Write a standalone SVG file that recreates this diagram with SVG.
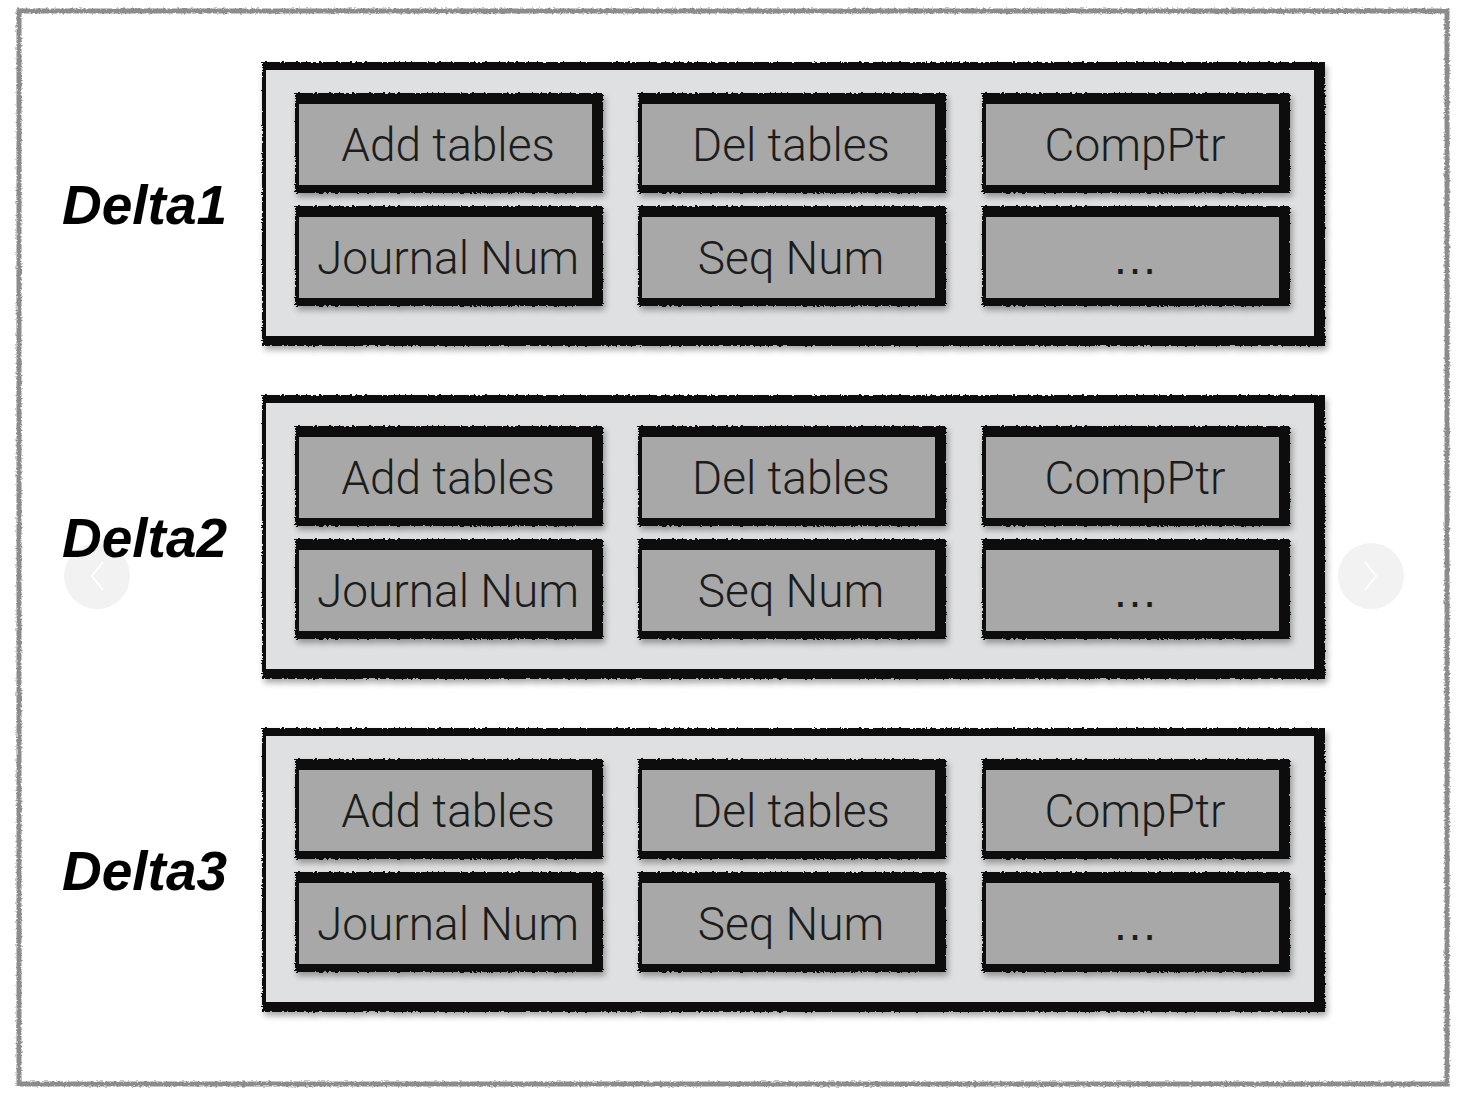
<svg xmlns="http://www.w3.org/2000/svg" width="1457" height="1099" viewBox="0 0 1457 1099">
<defs>
<filter id="rough" x="-5%" y="-5%" width="110%" height="110%">
<feTurbulence type="fractalNoise" baseFrequency="0.35 0.6" numOctaves="2" seed="4" result="n"/>
<feDisplacementMap in="SourceGraphic" in2="n" scale="3.5" xChannelSelector="R" yChannelSelector="G"/>
</filter>
<filter id="shadow" x="-5%" y="-10%" width="115%" height="130%">
<feGaussianBlur in="SourceAlpha" stdDeviation="3"/>
<feOffset dx="2" dy="4" result="b"/>
<feComponentTransfer><feFuncA type="linear" slope="0.35"/></feComponentTransfer>
<feMerge><feMergeNode/><feMergeNode in="SourceGraphic"/></feMerge>
</filter>
<g id="box">
<rect x="0" y="0" width="308" height="100" fill="#0a0a0a" filter="url(#rough)"/>
<rect x="4" y="11" width="293" height="81" fill="#a8a8a8"/>
</g>
<g id="panel">
<rect x="0" y="0" width="1063" height="284" fill="#0a0a0a" filter="url(#rough)"/>
<rect x="4" y="8" width="1048" height="266" fill="#dfe0e2"/>
</g>
</defs>
<style>
.t{font-family:Roboto,"Liberation Sans",Arial,sans-serif;font-size:46px;font-weight:300;fill:#1c1c1c;text-anchor:middle}
.e{font-family:"Liberation Sans",Arial,sans-serif;font-size:46px;fill:#1c1c1c;text-anchor:middle}
.d{font-family:"Liberation Sans",Arial,Helvetica,sans-serif;font-size:55px;font-weight:bold;font-style:italic;fill:#000}
.sh{filter:url(#shadow)}
</style>
<rect x="0" y="0" width="1457" height="1099" fill="#ffffff"/>
<rect x="19" y="11" width="1428" height="1073" fill="none" stroke="#8c8c8c" stroke-width="5" filter="url(#rough)"/>

<g id="nav">
<circle cx="97" cy="576" r="33" fill="#f2f2f2"/>
<path d="M103 562 L92 576 L103 590" fill="none" stroke="#ffffff" stroke-width="2"/>
<circle cx="1371" cy="576" r="33" fill="#f2f2f2"/>
<path d="M1365 562 L1376 576 L1365 590" fill="none" stroke="#ffffff" stroke-width="2"/>
</g>

<g id="delta1">
<text class="d" x="62" y="224">Delta1</text>
<g class="sh"><use href="#panel" x="262" y="62"/></g>
<g id="d1-add" class="sh"><use href="#box" x="295" y="93"/></g>
<text class="t" x="448" y="161">Add tables</text>
<g id="d1-del" class="sh"><use href="#box" x="638" y="93"/></g>
<text class="t" x="791" y="161">Del tables</text>
<g id="d1-comp" class="sh"><use href="#box" x="982" y="93"/></g>
<text class="t" x="1135" y="161">CompPtr</text>
<g id="d1-journal" class="sh"><use href="#box" x="295" y="206"/></g>
<text class="t" x="448" y="274">Journal Num</text>
<g id="d1-seq" class="sh"><use href="#box" x="638" y="206"/></g>
<text class="t" x="791" y="274">Seq Num</text>
<g id="d1-more" class="sh"><use href="#box" x="982" y="206"/></g>
<text class="e" x="1135" y="274">…</text>
</g>

<g id="delta2">
<text class="d" x="62" y="557">Delta2</text>
<g class="sh"><use href="#panel" x="262" y="395"/></g>
<g id="d2-add" class="sh"><use href="#box" x="295" y="426"/></g>
<text class="t" x="448" y="494">Add tables</text>
<g id="d2-del" class="sh"><use href="#box" x="638" y="426"/></g>
<text class="t" x="791" y="494">Del tables</text>
<g id="d2-comp" class="sh"><use href="#box" x="982" y="426"/></g>
<text class="t" x="1135" y="494">CompPtr</text>
<g id="d2-journal" class="sh"><use href="#box" x="295" y="539"/></g>
<text class="t" x="448" y="607">Journal Num</text>
<g id="d2-seq" class="sh"><use href="#box" x="638" y="539"/></g>
<text class="t" x="791" y="607">Seq Num</text>
<g id="d2-more" class="sh"><use href="#box" x="982" y="539"/></g>
<text class="e" x="1135" y="607">…</text>
</g>

<g id="delta3">
<text class="d" x="62" y="890">Delta3</text>
<g class="sh"><use href="#panel" x="262" y="728"/></g>
<g id="d3-add" class="sh"><use href="#box" x="295" y="759"/></g>
<text class="t" x="448" y="827">Add tables</text>
<g id="d3-del" class="sh"><use href="#box" x="638" y="759"/></g>
<text class="t" x="791" y="827">Del tables</text>
<g id="d3-comp" class="sh"><use href="#box" x="982" y="759"/></g>
<text class="t" x="1135" y="827">CompPtr</text>
<g id="d3-journal" class="sh"><use href="#box" x="295" y="872"/></g>
<text class="t" x="448" y="940">Journal Num</text>
<g id="d3-seq" class="sh"><use href="#box" x="638" y="872"/></g>
<text class="t" x="791" y="940">Seq Num</text>
<g id="d3-more" class="sh"><use href="#box" x="982" y="872"/></g>
<text class="e" x="1135" y="940">…</text>
</g>

<g id="connectors"></g>
</svg>
